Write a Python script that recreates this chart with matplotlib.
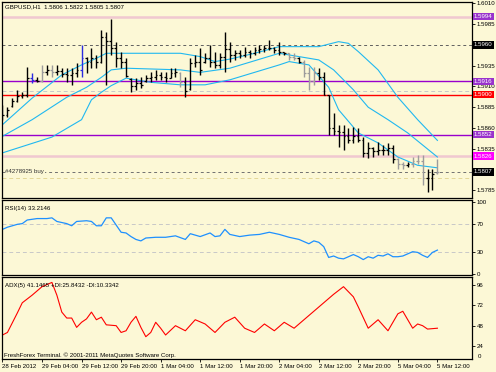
import matplotlib.pyplot as plt
import matplotlib.transforms as mtransforms
import numpy as np

# GBPUSD H1 bars (28 Feb 20:00 .. 5 Mar 12:00)
opens = [1.5880, 1.5876, 1.5886, 1.5893, 1.5898, 1.5900, 1.5920, 1.5918, 1.5917, 1.5928,
         1.5930, 1.5927, 1.5929, 1.5925, 1.5924, 1.5926, 1.5930, 1.5944, 1.5940, 1.5944,
         1.5940, 1.5970, 1.5965, 1.5956, 1.5944, 1.5940, 1.5919, 1.5910, 1.5914, 1.5916,
         1.5920, 1.5922, 1.5924, 1.5922, 1.5920, 1.5926, 1.5926, 1.5915, 1.5907, 1.5938,
         1.5940, 1.5940, 1.5944, 1.5940, 1.5936, 1.5945, 1.5955, 1.5948, 1.5950, 1.5948,
         1.5952, 1.5950, 1.5954, 1.5955, 1.5956, 1.5956, 1.5954, 1.5951, 1.5950, 1.5946,
         1.5944, 1.5940, 1.5926, 1.5916, 1.5926, 1.5922, 1.5900, 1.5860, 1.5856, 1.5855,
         1.5850, 1.5846, 1.5850, 1.5845, 1.5830, 1.5836, 1.5832, 1.5834, 1.5833, 1.5836,
         1.5822, 1.5816, 1.5815, 1.5817, 1.5820, 1.5820, 1.5800, 1.5800, 1.5806]
highs = [1.5888, 1.5885, 1.5896, 1.5906, 1.5903, 1.5933, 1.5926, 1.5921, 1.5936, 1.5936,
         1.5936, 1.5936, 1.5932, 1.5932, 1.5932, 1.5938, 1.5960, 1.5946, 1.5956, 1.5948,
         1.5978, 1.5976, 1.5991, 1.5964, 1.5952, 1.5944, 1.5920, 1.5920, 1.5921, 1.5924,
         1.5927, 1.5930, 1.5927, 1.5927, 1.5932, 1.5932, 1.5927, 1.5921, 1.5944, 1.5948,
         1.5956, 1.5950, 1.5960, 1.5952, 1.5950, 1.5976, 1.5964, 1.5954, 1.5954, 1.5958,
         1.5954, 1.5958, 1.5960, 1.5960, 1.5966, 1.5958, 1.5964, 1.5952, 1.5950, 1.5950,
         1.5946, 1.5942, 1.5933, 1.5933, 1.5932, 1.5927, 1.5900, 1.5878, 1.5864, 1.5864,
         1.5860, 1.5861, 1.5860, 1.5849, 1.5843, 1.5837, 1.5843, 1.5840, 1.5842, 1.5840,
         1.5824, 1.5819, 1.5819, 1.5825, 1.5827, 1.5827, 1.5810, 1.5810, 1.5822]
lows = [1.5870, 1.5873, 1.5885, 1.5891, 1.5896, 1.5897, 1.5914, 1.5915, 1.5915, 1.5924,
        1.5921, 1.5924, 1.5921, 1.5915, 1.5912, 1.5921, 1.5921, 1.5926, 1.5932, 1.5932,
        1.5938, 1.5912, 1.5948, 1.5933, 1.5932, 1.5921, 1.5903, 1.5906, 1.5908, 1.5915,
        1.5915, 1.5918, 1.5918, 1.5915, 1.5920, 1.5921, 1.5909, 1.5897, 1.5906, 1.5933,
        1.5924, 1.5938, 1.5933, 1.5932, 1.5932, 1.5927, 1.5940, 1.5942, 1.5944, 1.5946,
        1.5944, 1.5948, 1.5950, 1.5952, 1.5954, 1.5950, 1.5948, 1.5948, 1.5942, 1.5942,
        1.5938, 1.5921, 1.5906, 1.5912, 1.5918, 1.5900, 1.5852, 1.5852, 1.5837, 1.5833,
        1.5842, 1.5842, 1.5843, 1.5825, 1.5824, 1.5825, 1.5827, 1.5827, 1.5827, 1.5818,
        1.5810, 1.5810, 1.5813, 1.5813, 1.5816, 1.5791, 1.5783, 1.5785, 1.5805]
closes = [1.5876, 1.5882, 1.5893, 1.5898, 1.5900, 1.5920, 1.5918, 1.5917, 1.5928, 1.5930,
          1.5927, 1.5929, 1.5925, 1.5924, 1.5926, 1.5930, 1.5944, 1.5940, 1.5944, 1.5940,
          1.5970, 1.5965, 1.5956, 1.5944, 1.5940, 1.5923, 1.5910, 1.5914, 1.5912, 1.5920,
          1.5922, 1.5924, 1.5922, 1.5920, 1.5926, 1.5928, 1.5915, 1.5905, 1.5938, 1.5940,
          1.5930, 1.5944, 1.5940, 1.5936, 1.5945, 1.5955, 1.5948, 1.5950, 1.5948, 1.5952,
          1.5950, 1.5954, 1.5955, 1.5956, 1.5956, 1.5954, 1.5951, 1.5950, 1.5946, 1.5944,
          1.5940, 1.5926, 1.5916, 1.5926, 1.5922, 1.5900, 1.5860, 1.5856, 1.5855, 1.5850,
          1.5846, 1.5850, 1.5845, 1.5830, 1.5836, 1.5832, 1.5834, 1.5833, 1.5836, 1.5822,
          1.5816, 1.5815, 1.5817, 1.5820, 1.5820, 1.5800, 1.5800, 1.5805, 1.5807]
gray_bars = [8, 10, 36, 58, 59, 61, 62, 63, 80, 81, 83, 84, 85, 88]
blue_bars = [6, 16]

# bollinger bands (bar index, price)
upper_idx = [0, 6, 12, 16, 19, 21, 36, 40, 43, 46, 51, 56, 64, 68, 70, 72, 76, 80, 84, 88]
upper_val = [1.5864, 1.5896, 1.5924, 1.5936, 1.5944, 1.5950, 1.5950, 1.5946, 1.5940, 1.5943,
             1.5950, 1.5958, 1.5958, 1.5964, 1.5962, 1.5952, 1.5930, 1.5897, 1.5870, 1.5845]
mid_idx = [0, 6, 13, 17, 20, 22, 25, 36, 40, 46, 56, 60, 64, 67, 71, 74, 78, 82, 88]
mid_val = [1.5850, 1.5870, 1.5897, 1.5909, 1.5921, 1.5930, 1.5932, 1.5930, 1.5927, 1.5932,
           1.5950, 1.5946, 1.5942, 1.5930, 1.5906, 1.5885, 1.5870, 1.5854, 1.5825]
lower_idx = [0, 10, 16, 18, 20, 22, 25, 30, 36, 41, 46, 56, 58, 62, 66, 68, 72, 76, 80, 84, 88]
lower_val = [1.5830, 1.5849, 1.5870, 1.5894, 1.5903, 1.5911, 1.5920, 1.5915, 1.5912, 1.5912,
             1.5918, 1.5936, 1.5940, 1.5936, 1.5909, 1.5882, 1.5854, 1.5842, 1.5825, 1.5815, 1.5812]

# RSI(14)
rsi_idx = [0, 1, 3, 4, 5, 7, 9, 10, 11, 13, 14, 15, 17, 18, 19, 20, 21, 22, 23, 24,
           25, 26, 27, 28, 29, 31, 33, 35, 37, 38, 40, 42, 43, 44, 45, 46, 48, 50, 52, 54,
           56, 58, 60, 61, 62, 63, 64, 65, 66, 67, 68, 69, 70, 71, 72, 73, 74, 75, 76, 77,
           78, 79, 80, 81, 82, 83, 84, 85, 86, 87, 88]
rsi_val = [62, 65, 69, 70, 75, 77, 77, 78, 73, 70, 67, 73, 74, 73, 67, 67, 78, 78, 68, 58,
           57, 52, 48, 46, 50, 51, 51, 53, 48, 56, 52, 57, 52, 53, 62, 55, 52, 54, 55, 58,
           55, 51, 48, 45, 42, 46, 44, 38, 23, 25, 22, 21, 24, 27, 24, 20, 24, 22, 26, 25,
           28, 24, 24, 25, 28, 31, 30, 26, 23, 30, 33.2]

# ADX(5)
adx_idx = [0, 1, 3, 4, 6, 8, 10, 11, 12, 13, 14, 15, 16, 17, 18, 19, 20, 21, 23, 24,
           25, 26, 27, 28, 29, 30, 31, 32, 33, 35, 37, 39, 41, 43, 45, 47, 49, 51, 53, 55,
           57, 59, 61, 63, 65, 67, 69, 71, 72, 74, 76, 78, 80, 81, 83, 84, 85, 86, 88]
adx_val = [37, 40, 63, 75, 84, 94, 99, 84, 64, 57, 57, 46, 52, 56, 64, 55, 58, 49, 48, 40,
           42, 52, 59, 46, 35, 40, 52, 45, 37, 48, 42, 55, 50, 40, 52, 58, 45, 40, 50, 42,
           52, 45, 55, 65, 75, 85, 94, 82, 70, 45, 55, 42, 62, 65, 45, 50, 48, 44, 45]

time_idx = [0, 8, 16, 24, 32, 40, 48, 56, 64, 72, 80, 88]
time_labels = ['28 Feb 2012', '29 Feb 04:00', '29 Feb 12:00', '29 Feb 20:00', '1 Mar 04:00',
               '1 Mar 12:00', '1 Mar 20:00', '2 Mar 04:00', '2 Mar 12:00', '2 Mar 20:00',
               '5 Mar 04:00', '5 Mar 12:00']

price_ticks = [1.6010, 1.5985, 1.5935, 1.5910, 1.5885, 1.5860, 1.5835, 1.5785]

bg = '#FCF8D6'
fs = 4.4
plt.rcParams['font.family'] = ['Liberation Sans', 'DejaVu Sans']

W, H = 496, 372
fig = plt.figure(figsize=(4.96, 3.72), dpi=100, facecolor=bg)


def box(top, bottom, left=2, right=472):
    return [left / W, 1 - bottom / H, (right - left) / W, (bottom - top) / H]


ax = fig.add_axes(box(2, 198))
ax_rsi = fig.add_axes(box(200, 275))
ax_adx = fig.add_axes(box(277, 359))

for a in (ax, ax_rsi, ax_adx):
    a.set_facecolor(bg)
    a.set_xlim(-0.1, 95)
    a.yaxis.tick_right()
    a.tick_params(axis='y', labelsize=fs, length=2, width=0.6, pad=1.5, colors='black')
    a.tick_params(axis='x', bottom=False, labelbottom=False)
    for s in a.spines.values():
        s.set_linewidth(0.9)
        s.set_color('black')

# ---- price panel
ax.set_ylim(1.57756, 1.60118)
x = np.arange(len(closes))
bar_col = ['black'] * len(closes)
for i in gray_bars:
    bar_col[i] = '#9C9C9C'
for i in blue_bars:
    bar_col[i] = '#2A2AE0'
ax.vlines(x, lows, highs, colors=bar_col, lw=1.0, zorder=3)
ax.hlines(opens, x - 0.35, x, colors=bar_col, lw=0.9, zorder=3)
ax.hlines(closes, x, x + 0.35, colors=bar_col, lw=0.9, zorder=3)

band_col = '#20B8F0'
ax.plot(upper_idx, upper_val, color=band_col, lw=0.8, zorder=2)
ax.plot(mid_idx, mid_val, color=band_col, lw=0.8, zorder=2)
ax.plot(lower_idx, lower_val, color=band_col, lw=0.8, zorder=2)

ax.axhline(1.5994, color='#F0C8D0', lw=1.8, zorder=1)
ax.axhline(1.5960, color='#606060', lw=0.7, ls=(0, (3, 3)), zorder=1)
ax.axhline(1.5916, color='#9900CC', lw=1.0, zorder=1)
ax.axhline(1.5904, color='#C8C8C8', lw=0.7, ls=(0, (4, 3)), zorder=1)
ax.axhline(1.5900, color='#FF0000', lw=1.0, zorder=1)
ax.axhline(1.5852, color='#9900CC', lw=1.0, zorder=1)
ax.axhline(1.5826, color='#F0C8D0', lw=1.8, zorder=1)
ax.axhline(1.5807, color='#707070', lw=0.7, ls=(0, (3, 3)), zorder=1)
ax.axhline(1.5800, color='#E4D898', lw=0.7, ls=(0, (4, 3)), zorder=1)

ax.set_yticks(price_ticks)
ax.set_yticklabels([f'{p:.4f}' for p in price_ticks])

tr = mtransforms.blended_transform_factory(ax.transAxes, ax.transData)
tags = [(1.5994, '#9933CC'), (1.5960, 'black'), (1.5916, '#9933CC'), (1.5900, '#FF0000'),
        (1.5852, '#9933CC'), (1.5826, '#FF00FF'), (1.5807, 'black')]
for p, c in tags:
    ax.text(1.004, p, f'{p:.4f}', transform=tr, fontsize=fs, color='white', va='center',
            ha='left', clip_on=False, zorder=5,
            bbox=dict(boxstyle='square,pad=0.2', fc=c, ec='none'))

ax.text(0.6, 1.5807, '#4278925 buy', fontsize=fs, color='#303030', va='center', ha='left',
        zorder=4, bbox=dict(boxstyle='square,pad=0.1', fc=bg, ec='none'))
ax.text(0.006, 0.975, 'GBPUSD,H1  1.5806 1.5822 1.5805 1.5807', transform=ax.transAxes,
        fontsize=fs, va='center', ha='left')

# ---- RSI panel
ax_rsi.set_ylim(-1.4, 102.8)
ax_rsi.axhline(70, color='#C8C8C8', lw=0.7, ls=(0, (4, 3)))
ax_rsi.axhline(30, color='#C8C8C8', lw=0.7, ls=(0, (4, 3)))
ax_rsi.plot(rsi_idx, rsi_val, color='#1E90FF', lw=0.9)
ax_rsi.set_yticks([0, 30, 70, 100])
ax_rsi.set_yticklabels(['0', '30', '70', '100'])
ax_rsi.text(0.006, 0.89, 'RSI(14) 33.2146', transform=ax_rsi.transAxes, fontsize=fs,
            va='center', ha='left')

# ---- ADX panel
ax_adx.set_ylim(8.7, 105.4)
ax_adx.plot(adx_idx, adx_val, color='#FF0000', lw=0.8)
ax_adx.set_yticks([24, 48, 72, 96])
ax_adx.set_yticklabels(['24', '48', '72', '96'])
ax_adx.text(1.012, 0.03, '0', transform=ax_adx.transAxes, fontsize=fs, va='center', ha='left')
ax_adx.text(0.006, 0.9, 'ADX(5) 41.1465 +DI:25.8432 -DI:10.3342', transform=ax_adx.transAxes,
            fontsize=fs, va='center', ha='left')
ax_adx.text(0.004, 0.05, 'FreshForex Terminal. \u00a9 2001-2011 MetaQuotes Software Corp.',
            transform=ax_adx.transAxes, fontsize=fs, va='center', ha='left')

ax_adx.tick_params(axis='x', bottom=True, labelbottom=True, labelsize=fs, length=2,
                   width=0.6, pad=1.5)
ax_adx.set_xticks(time_idx)
ax_adx.set_xticklabels(time_labels)
for lab in ax_adx.get_xticklabels():
    lab.set_horizontalalignment('left')

fig.savefig('out.png', dpi=100, facecolor=bg)
